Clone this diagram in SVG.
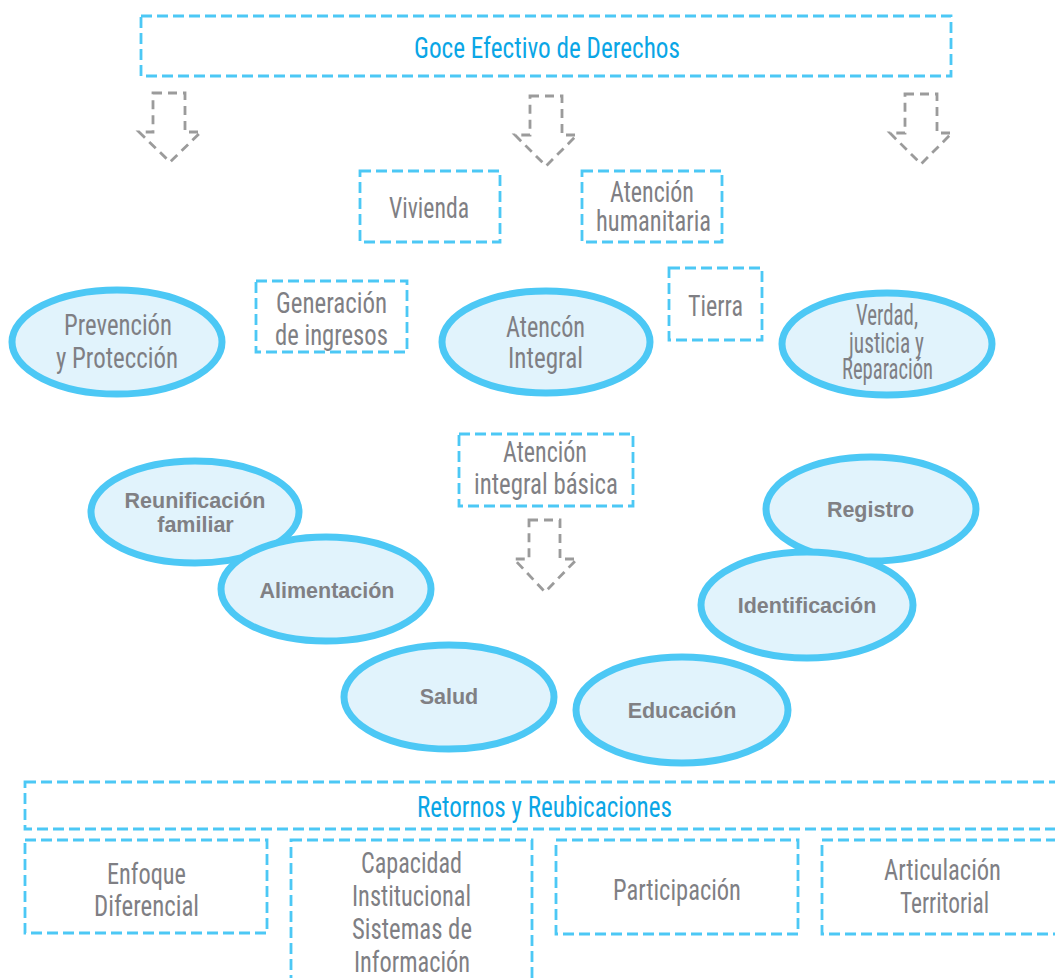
<svg xmlns="http://www.w3.org/2000/svg" width="1055" height="978" viewBox="0 0 1055 978">
<style>
.box{fill:none;stroke:#4cc8f5;stroke-width:2.8;stroke-dasharray:11 5}
.arr{fill:none;stroke:#9b9b9b;stroke-width:2.8;stroke-dasharray:9 6;stroke-linejoin:miter}
.ell{fill:#e1f3fc;stroke:#4cc8f5;stroke-width:7}
.t{font-family:"Liberation Sans Narrow","Roboto Condensed","DejaVu Sans Condensed","Liberation Sans",sans-serif;font-size:30px;fill:#7f7f84;text-anchor:middle}
.tb{fill:#0aa6e6}
.b{font-family:"Liberation Sans",Arial,sans-serif;font-weight:bold;font-size:21.5px;fill:#808084;text-anchor:middle}
</style>
<rect width="1055" height="978" fill="#ffffff"/>

<g id="goce">
<rect class="box" x="141" y="16" width="810" height="60"/>
<text class="t tb" x="547" y="58" textLength="266" lengthAdjust="spacingAndGlyphs">Goce Efectivo de Derechos</text>
</g>

<g id="connectors">
<path class="arr" d="M153,93 L185,93 L185,132 L201,132 L170,162 L139,132 L153,132 Z"/>
<path class="arr" d="M530,96 L562,96 L562,135 L577,135 L546,166 L515,135 L530,135 Z"/>
<path class="arr" d="M905,94 L937,94 L937,133 L952,133 L921,164 L890,133 L905,133 Z"/>
<path class="arr" d="M529,520 L560,520 L560,559 L577,559 L545,592 L514,559 L529,559 Z"/>
</g>

<g id="vivienda">
<rect class="box" x="360" y="171" width="140" height="71"/>
<text class="t" x="429" y="218" textLength="80" lengthAdjust="spacingAndGlyphs">Vivienda</text>
</g>

<g id="atencion-humanitaria">
<rect class="box" x="582" y="171" width="140" height="71"/>
<text class="t" x="652" y="202" font-size="26" textLength="84" lengthAdjust="spacingAndGlyphs">Atención</text>
<text class="t" x="653.5" y="231" font-size="26" textLength="115" lengthAdjust="spacingAndGlyphs">humanitaria</text>
</g>

<g id="generacion">
<rect class="box" x="256" y="281" width="151" height="71"/>
<text class="t" x="331.5" y="313" textLength="111" lengthAdjust="spacingAndGlyphs">Generación</text>
<text class="t" x="331.5" y="345" textLength="113" lengthAdjust="spacingAndGlyphs">de ingresos</text>
</g>

<g id="tierra">
<rect class="box" x="669" y="268" width="93" height="72"/>
<text class="t" x="715.5" y="316" textLength="55" lengthAdjust="spacingAndGlyphs">Tierra</text>
</g>

<g id="prevencion">
<ellipse class="ell" cx="117" cy="342" rx="105" ry="52"/>
<text class="t" x="118" y="335" textLength="108" lengthAdjust="spacingAndGlyphs">Prevención</text>
<text class="t" x="117" y="368" textLength="122" lengthAdjust="spacingAndGlyphs">y Protección</text>
</g>

<g id="atencion-integral">
<ellipse class="ell" cx="546" cy="342" rx="104" ry="51"/>
<text class="t" x="545.5" y="337" textLength="79" lengthAdjust="spacingAndGlyphs">Atencón</text>
<text class="t" x="545.5" y="368" textLength="75" lengthAdjust="spacingAndGlyphs">Integral</text>
</g>

<g id="verdad">
<ellipse class="ell" cx="887" cy="344" rx="105" ry="51"/>
<text class="t" x="887" y="325" font-size="24" textLength="62" lengthAdjust="spacingAndGlyphs">Verdad,</text>
<text class="t" x="886.5" y="353" font-size="24" textLength="75" lengthAdjust="spacingAndGlyphs">justicia y</text>
<text class="t" x="887.5" y="379" font-size="24" textLength="91" lengthAdjust="spacingAndGlyphs">Reparación</text>
</g>

<g id="atencion-basica">
<rect class="box" x="459" y="434" width="174" height="72"/>
<text class="t" x="545" y="462" textLength="84" lengthAdjust="spacingAndGlyphs">Atención</text>
<text class="t" x="546" y="494" textLength="144" lengthAdjust="spacingAndGlyphs">integral básica</text>
</g>

<g id="reunificacion">
<ellipse class="ell" cx="195" cy="512" rx="104" ry="51"/>
<text class="b" x="195" y="508">Reunificación</text>
<text class="b" x="195.5" y="532">familiar</text>
</g>

<g id="alimentacion">
<ellipse class="ell" cx="326" cy="589" rx="105" ry="52"/>
<text class="b" x="327" y="598">Alimentación</text>
</g>

<g id="salud">
<ellipse class="ell" cx="449" cy="697" rx="105" ry="52"/>
<text class="b" x="449" y="704">Salud</text>
</g>

<g id="educacion">
<ellipse class="ell" cx="682" cy="710" rx="106" ry="53"/>
<text class="b" x="682" y="718">Educación</text>
</g>

<g id="registro">
<ellipse class="ell" cx="871" cy="509" rx="105" ry="52"/>
<text class="b" x="870.5" y="517">Registro</text>
</g>

<g id="identificacion">
<ellipse class="ell" cx="807" cy="605" rx="106" ry="53"/>
<text class="b" x="807" y="613">Identificación</text>
</g>

<g id="retornos">
<rect class="box" x="25" y="782" width="1060" height="47"/>
<text class="t tb" x="544.5" y="817" font-size="29" textLength="255" lengthAdjust="spacingAndGlyphs">Retornos y Reubicaciones</text>
</g>

<g id="enfoque">
<rect class="box" x="25" y="840" width="242" height="93"/>
<text class="t" x="146.5" y="884" textLength="79" lengthAdjust="spacingAndGlyphs">Enfoque</text>
<text class="t" x="146.5" y="916" textLength="105" lengthAdjust="spacingAndGlyphs">Diferencial</text>
</g>

<g id="capacidad">
<rect class="box" x="291" y="840" width="241" height="160"/>
<text class="t" x="411.5" y="873" textLength="101" lengthAdjust="spacingAndGlyphs">Capacidad</text>
<text class="t" x="411.5" y="906" textLength="119" lengthAdjust="spacingAndGlyphs">Institucional</text>
<text class="t" x="412" y="939" textLength="120" lengthAdjust="spacingAndGlyphs">Sistemas de</text>
<text class="t" x="412" y="972" textLength="116" lengthAdjust="spacingAndGlyphs">Información</text>
</g>

<g id="participacion">
<rect class="box" x="556" y="840" width="242" height="94"/>
<text class="t" x="677" y="900" textLength="128" lengthAdjust="spacingAndGlyphs">Participación</text>
</g>

<g id="articulacion">
<rect class="box" x="822" y="840" width="242" height="94"/>
<text class="t" x="942.5" y="880" textLength="117" lengthAdjust="spacingAndGlyphs">Articulación</text>
<text class="t" x="944.5" y="913" textLength="89" lengthAdjust="spacingAndGlyphs">Territorial</text>
</g>
</svg>
